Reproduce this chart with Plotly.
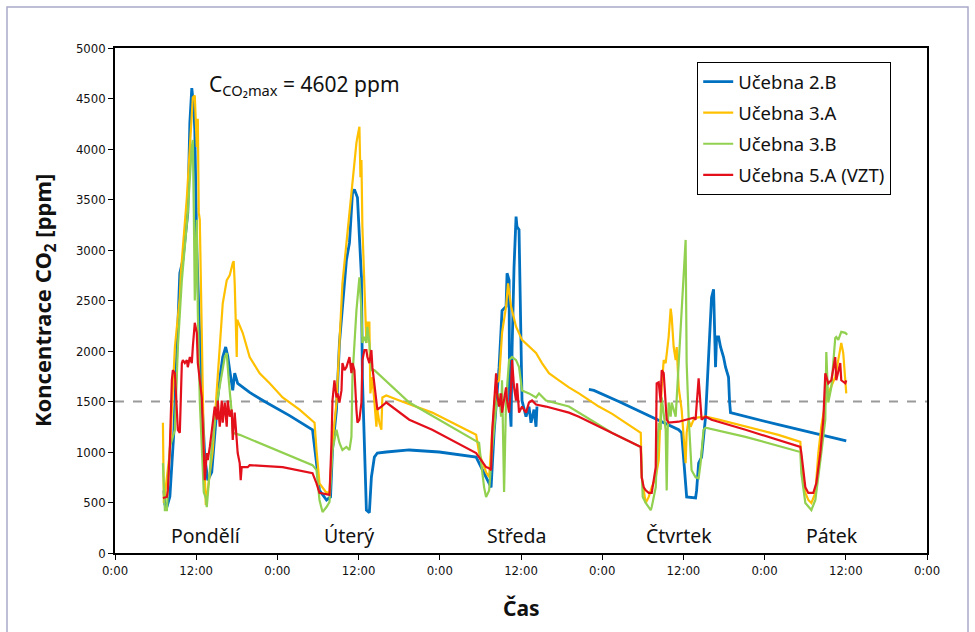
import plotly.graph_objects as go

# ---------------- data (time in hours from Monday 0:00, CO2 in ppm) ----------------
tick_hours = [0, 12, 24, 36, 48, 60, 72, 84, 96, 108, 120]
tick_text = ["0:00", "12:00", "0:00", "12:00", "0:00", "12:00", "0:00", "12:00", "0:00", "12:00", "0:00"]

day_names = ["Pondělí", "Úterý", "Středa", "Čtvrtek", "Pátek"]
day_label_hours = [13.4, 34.6, 59.4, 83.4, 105.9]
day_label_ppm = [178, 178, 178, 178, 178]

limit_ppm = 1500
max_ppm = 4602

series_names = ["Učebna 2.B", "Učebna 3.A", "Učebna 3.B", "Učebna 5.A (VZT)"]
series_colors = ["#0070C0", "#FFC000", "#92D050", "#E3101B"]

blue_h = [7.22, 7.37, 7.67, 8.11, 8.70, 9.14, 9.58, 10.03, 10.47, 10.76,
          11.06, 11.35, 11.65, 11.79, 12.09, 12.53, 12.83, 13.27, 13.71, 14.30,
          14.74, 15.19, 15.63, 15.92, 16.36, 16.66, 16.95, 17.40, 17.69, 18.13,
          19.90, 22.11, 25.80, 29.19, 29.78, 30.22, 31.26, 31.85,
          32.14, 32.73, 33.17, 33.61, 34.20, 34.65, 35.09, 35.38, 35.83, 36.12,
          36.42, 36.56, 36.86, 37.15, 37.59, 37.89, 38.33, 38.77, 40.10, 43.49,
          47.91, 53.37, 53.81, 54.84, 55.29, 55.58,
          56.02, 56.76, 57.20, 57.79, 57.94, 58.24, 58.31, 58.53, 58.68, 58.97,
          59.27, 59.41, 59.71, 60.00, 60.15, 60.74, 61.18, 61.48, 61.92, 62.22,
          62.36,
          66.0,
          70.03, 70.77, 74.45, 80.35, 83.30, 83.74, 84.04, 84.48, 85.80, 85.95,
          86.25, 86.69, 87.28, 87.72, 88.16, 88.46, 88.75, 88.90, 89.20, 89.49,
          89.93, 90.23, 90.67, 90.82, 90.96, 98.04, 102.91, 108.07]
blue_ppm = [620, 480, 455, 560, 1200, 1900, 2770, 2900, 3200, 3370,
            4260, 4602, 4400, 4190, 3000, 2000, 1540, 950, 720, 800,
            1200, 1540, 1800, 1940, 2040, 1950, 1810, 1610, 1780, 1680,
            1590, 1500, 1360, 1220, 890, 620, 525, 555,
            1020, 1420, 2080, 2400, 2900, 3070, 3560, 3600, 3520, 3130,
            2730, 1740, 920, 425, 400, 750, 950, 990, 1000, 1020,
            1000, 950, 890, 750, 690, 650,
            1190, 1840, 2400, 2440, 2770, 2700, 1510, 1250, 2010, 2830,
            3330, 3230, 3200, 2010, 1510, 1350, 1450, 1290, 1420, 1250,
            1450,
            None,
            1620, 1610, 1500, 1310, 1220, 1190, 890, 555, 545, 620,
            890, 950, 1350, 1880, 2530, 2610, 1840, 2140, 2140, 2040,
            1940, 1840, 1740, 1500, 1390, 1270, 1190, 1110]

yellow_h = [7.08, 7.22, 8.11, 8.85, 9.58, 9.73, 10.62, 11.50, 11.79, 12.09,
            12.24, 12.38, 12.53, 13.12, 13.42, 14.45, 15.04, 15.92, 16.51, 16.95,
            17.40, 17.54, 17.69, 17.99, 18.06, 18.87, 19.90, 21.38, 22.85, 24.77,
            27.27, 29.49, 29.78, 30.22, 31.26, 31.70, 32.14, 32.73, 33.61, 34.20,
            34.65, 35.09, 35.68, 35.83, 36.12, 36.27, 36.42, 36.56, 36.86, 37.15,
            37.30, 37.59, 37.74, 38.04, 38.63, 38.77, 39.07, 39.36, 39.51, 40.10,
            42.02, 46.88, 53.37, 53.81, 54.84, 55.29, 55.73, 56.32, 56.76, 57.20,
            57.79, 58.09, 58.53, 59.27, 60.15, 62.22, 63.10, 64.13, 65.61, 67.08,
            68.56, 71.50, 73.42, 77.70, 77.77, 77.84, 78.43, 78.88, 79.32, 79.91,
            80.35, 80.79, 81.09, 81.38, 81.82, 82.12, 82.27, 82.56, 82.86, 83.01,
            83.30, 83.60, 83.74, 84.04, 84.33, 84.48, 84.77, 85.07, 85.51, 85.95,
            87.28, 89.20, 93.18, 98.04, 101.28, 101.43, 102.02, 102.46, 102.91, 103.50,
            103.94, 104.38, 104.97, 105.41, 106.44, 106.89, 107.18, 107.33, 107.62, 107.92,
            108.07]
yellow_ppm = [1290, 495, 1000, 2040, 2530, 2770, 3520, 4510, 4530, 4020,
              4300, 3370, 3300, 1050, 475, 1020, 1610, 2470, 2700, 2750,
              2870, 2890, 2670, 1940, 2310, 2180, 1940, 1780, 1680, 1540,
              1420, 1290, 1020, 690, 595, 605, 1090, 1490, 2670, 3070,
              3400, 3720, 4060, 4120, 4220, 3720, 3890, 3230, 2730, 2080,
              2280, 2280, 1580, 1740, 1250, 1420, 1290, 1220, 1540, 1560,
              1510, 1390, 1170, 990, 800, 750, 1190, 1680, 1710, 2180,
              2440, 2670, 2440, 2240, 2110, 1980, 1880, 1780, 1710, 1640,
              1580, 1450, 1380, 1190, 990, 750, 495, 555, 650, 750,
              920, 1640, 1910, 1880, 2140, 2420, 2340, 2040, 1910, 2040,
              1640, 1490, 1420, 1150, 890, 1190, 1320, 1250, 1320, 1340,
              1350, 1320, 1250, 1170, 1100, 920, 595, 525, 495, 595,
              990, 1250, 1490, 1580, 1740, 1910, 2040, 2080, 1980, 1710,
              1580]

green_points = [
    (7.08, 890), (7.37, 425), (7.67, 425), (8.11, 1050), (8.85, 1220), (9.29, 2040),
    (9.88, 2700), (10.32, 3030), (10.76, 3370), (11.35, 4020), (11.50, 4090), (11.65, 3370),
    (11.79, 2500), (12.09, 3300), (12.24, 2380), (12.53, 1500), (13.12, 600), (13.42, 545),
    (13.56, 455), (14.30, 1050), (15.19, 1540), (16.22, 1940), (16.51, 1980), (16.81, 1710),
    (17.25, 1390), (17.40, 1190), (18.43, 1170), (29.19, 870), (29.78, 820), (30.22, 525),
    (30.67, 405), (31.26, 455), (31.70, 505), (32.14, 1020), (32.73, 1220), (33.17, 1090),
    (33.61, 1020), (34.20, 1050), (34.65, 1020), (34.94, 1150), (35.09, 1740), (35.68, 2400),
    (36.12, 2730), (36.42, 2400), (36.56, 2080), (36.86, 2140), (37.15, 2080), (37.30, 2240),
    (37.59, 2080), (37.89, 1810), (38.33, 1810), (43.49, 1490), (53.81, 1090), (54.11, 890),
    (54.55, 650), (54.84, 555), (55.29, 620), (55.73, 1020), (56.32, 1450), (56.76, 1580),
    (57.06, 1350), (57.20, 1710), (57.35, 1190), (57.50, 605), (57.79, 1510), (58.24, 1910),
    (58.68, 1940), (59.27, 1910), (59.71, 1840), (60.00, 1640), (60.15, 1610), (61.18, 1580),
    (62.22, 1540), (62.66, 1580), (63.69, 1510), (67.08, 1450), (68.56, 1390), (73.42, 1190),
    (77.70, 1050), (77.84, 790), (77.99, 555), (78.43, 495), (79.17, 425), (79.32, 455),
    (79.91, 650), (80.05, 890), (80.35, 1290), (80.64, 1220), (80.79, 1540), (81.38, 1220),
    (81.53, 620), (81.68, 1220), (81.82, 1490), (82.12, 1350), (82.27, 1490), (82.56, 1420),
    (82.86, 1350), (84.33, 3100), (84.48, 1880), (84.77, 1350), (85.07, 1050), (85.21, 820),
    (85.80, 750), (86.25, 740), (86.54, 890), (86.98, 1220), (87.28, 1240), (93.18, 1150),
    (101.28, 1000), (101.43, 790), (102.02, 495), (102.91, 425), (103.50, 525), (103.94, 790),
    (104.38, 990), (104.97, 1320), (105.12, 1990), (105.41, 1490), (105.86, 1640), (106.44, 2130),
    (106.59, 2140), (106.89, 2110), (107.33, 2190), (107.92, 2180), (108.21, 2160),
]

red_points = [
    (7.08, 545), (7.67, 555), (7.81, 620), (8.11, 1050), (8.40, 1710), (8.55, 1810),
    (8.85, 1780), (9.14, 1390), (9.29, 1220), (9.58, 1190), (9.88, 1880), (10.03, 1910),
    (10.32, 1880), (10.62, 1910), (10.76, 1840), (11.06, 1940), (11.35, 1880), (11.50, 2040),
    (11.79, 2280), (12.09, 2180), (12.24, 1880), (12.83, 1540), (12.97, 1220), (13.27, 720),
    (13.56, 990), (13.71, 920), (14.01, 1050), (14.30, 1220), (14.74, 1450), (15.04, 1320),
    (15.19, 1510), (15.48, 1250), (15.78, 1510), (15.92, 1290), (16.22, 1490), (16.51, 1250),
    (16.66, 1510), (16.95, 1350), (17.25, 1420), (17.40, 1120), (17.69, 1390), (17.99, 1120),
    (18.13, 990), (18.43, 890), (18.58, 720), (18.72, 850), (19.61, 850), (19.90, 870),
    (24.77, 850), (29.19, 790), (29.78, 690), (30.22, 595), (31.70, 575), (31.99, 1090),
    (32.14, 1510), (32.43, 1710), (32.73, 1540), (32.88, 1580), (33.17, 1490), (33.47, 1610),
    (33.61, 1880), (33.91, 1810), (34.20, 1840), (34.65, 1940), (34.94, 1780), (35.09, 1880),
    (35.38, 1810), (35.68, 1420), (35.83, 1290), (36.12, 1320), (36.42, 1490), (36.56, 1910),
    (36.86, 2010), (37.15, 2010), (37.30, 1940), (37.59, 1880), (37.89, 2010), (38.04, 1840),
    (38.63, 1540), (38.77, 1420), (39.36, 1450), (40.10, 1490), (43.49, 1320), (46.88, 1220),
    (53.37, 990), (54.84, 850), (55.29, 840), (55.58, 820), (55.73, 1190), (56.32, 1780),
    (56.47, 1580), (56.76, 1450), (57.06, 1580), (57.20, 1390), (57.79, 1640), (57.94, 1510),
    (58.24, 1390), (58.53, 1640), (58.68, 1910), (58.97, 1640), (59.27, 1510), (59.41, 1680),
    (59.71, 1390), (60.15, 1450), (60.74, 1390), (61.18, 1490), (61.63, 1510), (62.22, 1470),
    (63.69, 1450), (67.08, 1390), (68.56, 1350), (73.42, 1190), (77.70, 1050), (77.84, 750),
    (78.14, 650), (78.43, 620), (78.88, 595), (79.32, 595), (79.91, 850), (80.05, 1680),
    (80.35, 1690), (80.64, 1490), (80.79, 1810), (81.09, 1780), (81.53, 1320), (81.82, 1290),
    (83.30, 1300), (85.51, 1340), (85.80, 1320), (86.25, 1730), (86.69, 1320), (87.28, 1350),
    (88.16, 1320), (93.18, 1220), (98.04, 1120), (101.28, 1050), (101.43, 990), (102.02, 650),
    (102.46, 595), (103.20, 595), (103.64, 690), (104.23, 990), (104.68, 1320), (104.97, 1780),
    (105.41, 1680), (105.86, 1710), (106.44, 1940), (106.59, 1710), (107.18, 1880), (107.33, 1710),
    (107.92, 1680), (108.07, 1710),
]

green_h = [p[0] for p in green_points]
green_ppm = [p[1] for p in green_points]
red_h = [p[0] for p in red_points]
red_ppm = [p[1] for p in red_points]

# ---------------- figure ----------------
TEXT_FONT = "Noto Sans, Open Sans, sans-serif"
TICK_FONT = "Liberation Sans Narrow, DejaVu Sans Condensed, Roboto Condensed, sans-serif"

fig = go.Figure()
xs = [blue_h, yellow_h, green_h, red_h]
ys = [blue_ppm, yellow_ppm, green_ppm, red_ppm]
widths = [2.8, 2.2, 2.2, 2.2]
for i, (name, color, x, y, w) in enumerate(zip(series_names, series_colors, xs, ys, widths)):
    fig.add_trace(go.Scatter(x=x, y=y, mode="lines", name=name, legendgroup=f"g{i}",
                             line=dict(color=color, width=w), connectgaps=False))

# 1500 ppm limit line
fig.add_shape(type="line", xref="x", yref="y", x0=tick_hours[0], x1=tick_hours[-1],
              y0=limit_ppm, y1=limit_ppm, line=dict(color="#9a9a9a", width=2, dash="dash"),
              layer="below")

# outer chart frame
fig.add_shape(type="rect", xref="paper", yref="paper", x0=-0.133, x1=1.0505, y0=-0.175, y1=1.081,
              line=dict(color="#a9a9c9", width=1.5))

for name, h, p in zip(day_names, day_label_hours, day_label_ppm):
    fig.add_annotation(x=h, y=p, text=name, showarrow=False, xanchor="center", yanchor="middle",
                       font=dict(family=TEXT_FONT, size=19.5, color="#111"))

fig.add_annotation(x=13.6, y=4630, text=f"C<sub>CO₂max</sub> = {max_ppm} ppm", showarrow=False,
                   xanchor="left", yanchor="middle",
                   font=dict(family=TEXT_FONT, size=21, color="#111"))

fig.add_annotation(xref="paper", yref="paper", x=-0.088, y=0.5, text="<b>Koncentrace CO<sub>2</sub> [ppm]</b>",
                   textangle=-90, showarrow=False, xanchor="center", yanchor="middle",
                   font=dict(family=TEXT_FONT, size=22, color="#111"))
fig.add_annotation(xref="paper", yref="paper", x=0.5, y=-0.109, text="<b>Čas</b>",
                   showarrow=False, xanchor="center", yanchor="middle",
                   font=dict(family=TEXT_FONT, size=21, color="#111"))

fig.update_layout(
    width=975, height=632,
    margin=dict(l=115, r=48, t=48, b=79),
    paper_bgcolor="white", plot_bgcolor="white",
    showlegend=True,
    legend=dict(x=0.717, y=0.972, xanchor="left", yanchor="top",
                bordercolor="black", borderwidth=1, bgcolor="white",
                font=dict(family=TEXT_FONT, size=18.5, color="#111"),
                itemwidth=30, tracegroupgap=4),
    xaxis=dict(range=[tick_hours[0], tick_hours[-1]], tickvals=tick_hours, ticktext=tick_text,
               showgrid=False, zeroline=False, showline=True, linecolor="black", linewidth=1.5,
               mirror=True, ticks="outside", ticklen=5, tickcolor="black",
               tickfont=dict(family=TICK_FONT, size=13, color="#111")),
    yaxis=dict(range=[0, 5000], dtick=500, showgrid=False, zeroline=False, showline=True,
               linecolor="black", linewidth=1.5, mirror=True, ticks="outside", ticklen=5,
               tickcolor="black", tickfont=dict(family=TICK_FONT, size=13, color="#111")),
)

fig.write_html("out.html")
